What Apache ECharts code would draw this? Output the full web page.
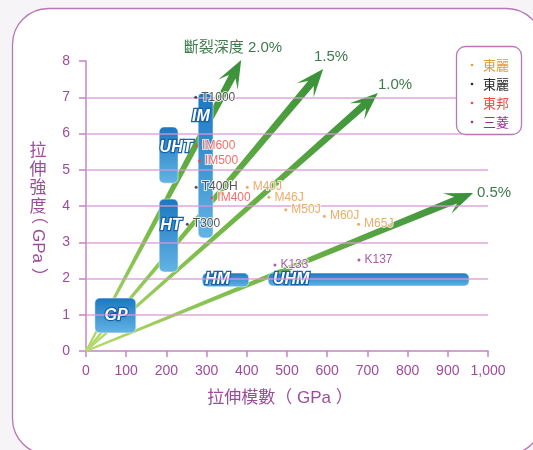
<!DOCTYPE html>
<html><head><meta charset="utf-8">
<script src="https://cdn.jsdelivr.net/npm/echarts@6/dist/echarts.min.js"></script>
<style>html,body{margin:0;padding:0;background:#f7f4f7;}#c{width:533px;height:450px;}</style>
</head><body><div id="c"></div>
<script>
// ---------- data ----------
const xTicks = [0,100,200,300,400,500,600,700,800,900,1000];
const yTicks = [0,1,2,3,4,5,6,7,8];
const strainNames = ['斷裂深度 2.0%','1.5%','1.0%','0.5%'];
const strainTipModulus = [386,590,726,963];
const strainTipStrength = [8.03,7.78,7.12,4.36];
const boxNames = ['GP','HT','UHT','IM','HM','UHM'];
const boxModulusMin = [22,182,182,279,289,453];
const boxModulusMax = [124,229,229,316,405,953];
const boxStrengthMin = [0.50,2.18,4.63,3.12,1.77,1.79];
const boxStrengthMax = [1.46,4.19,6.18,7.12,2.15,2.15];
const legendNames = ['東麗','東麗','東邦','三菱'];
const torayMNames = ['M40J','M46J','M50J','M60J','M65J'];
const torayMModulus = [401,455,497,593,678];
const torayMStrength = [4.52,4.24,3.90,3.72,3.50];
const torayTNames = ['T1000','T400H','T300'];
const torayTModulus = [273,274,252];
const torayTStrength = [7.00,4.52,3.50];
const tohoNames = ['IM600','IM500','IM400'];
const tohoModulus = [275,282,313];
const tohoStrength = [5.66,5.24,4.23];
const mitsuNames = ['K133','K137'];
const mitsuModulus = [470,679];
const mitsuStrength = [2.37,2.51];

// ---------- styles ----------
const PURPLE = '#9e4a9c';
const AXIS = '#c584c3';
const GRID = '#d896d6';
const GREEN_TXT = '#3d7a4c';
const LATIN = '"Liberation Sans", Arial, "Noto Sans CJK TC", sans-serif';
const CJK = '"Noto Sans CJK TC", "Liberation Sans", sans-serif';
const makerColors = ['#e3993f','#2b2b2b','#ef4b42','#93338f'];
// label anchor inside each box (data units) & alignment
const boxLabelAnchor = {GP:[75,0.97,'center'],HT:[211,3.45,'center'],UHT:[224,5.6,'center'],IM:[286,6.48,'center'],HM:[296,1.98,'left'],UHM:[465,1.97,'left']};

const chart = echarts.init(document.getElementById('c'));

function pointSeries(names, xs, ys, color, z){
  return {
    type:'scatter', z:z, symbol:'circle', symbolSize:3,
    itemStyle:{color:color},
    data: names.map((n,i)=>({name:n, value:[xs[i], ys[i]]})),
    label:{show:true, position:'right', distance:4, formatter:'{b}', color:color,
      fontSize:12, fontFamily:LATIN, textBorderColor:'#fff', textBorderWidth:2},
    silent:true
  };
}

const option = {
  animation:false,
  backgroundColor:'#f7f4f7',
  grid:{left:86, right:45, top:61, bottom:99},
  xAxis:{type:'value', min:0, max:1000, interval:100,
    axisLine:{show:true, onZero:true, lineStyle:{color:AXIS, width:1.5}},
    axisTick:{show:true, length:6, lineStyle:{color:AXIS, width:1.5}},
    splitLine:{show:false},
    axisLabel:{color:PURPLE, fontSize:14, fontFamily:LATIN, margin:13,
      formatter:v=>String(v).replace(/\B(?=(\d{3})+(?!\d))/g, ',')}
  },
  yAxis:{type:'value', min:0, max:8, interval:1,
    axisLine:{show:true, lineStyle:{color:AXIS, width:1.5}},
    axisTick:{show:true, length:7, lineStyle:{color:AXIS, width:1.5}},
    splitLine:{show:false},
    axisLabel:{color:PURPLE, fontSize:14, fontFamily:LATIN, margin:16}
  },
  series:[
    { // strain arrows
      type:'custom', z:2, silent:true,
      data: strainNames.map((n,i)=>({name:n, value:[strainTipModulus[i], strainTipStrength[i]]})),
      renderItem:function(params, api){
        const p0 = api.coord([0,0]);
        const p1 = api.coord([api.value(0), api.value(1)]);
        const dx=p1[0]-p0[0], dy=p1[1]-p0[1], L=Math.hypot(dx,dy);
        const ux=dx/L, uy=dy/L, nx=-uy, ny=ux;
        const headLen=28, headW=22, notchDepth=9, w0=2, w1=7.5;
        const sx=p1[0]-ux*(headLen-notchDepth), sy=p1[1]-uy*(headLen-notchDepth);
        const wx=p1[0]-ux*headLen, wy=p1[1]-uy*headLen;
        const pts=[
          [p0[0]+nx*w0/2, p0[1]+ny*w0/2],
          [sx+nx*w1/2, sy+ny*w1/2],
          [wx+nx*headW/2, wy+ny*headW/2],
          [p1[0], p1[1]],
          [wx-nx*headW/2, wy-ny*headW/2],
          [sx-nx*w1/2, sy-ny*w1/2],
          [p0[0]-nx*w0/2, p0[1]-ny*w0/2]
        ];
        return {type:'polygon', shape:{points:pts},
          style:{fill:new echarts.graphic.LinearGradient(p0[0],p0[1],p1[0],p1[1],
            [{offset:0,color:'#b5db6c'},{offset:0.4,color:'#7cbd4a'},{offset:1,color:'#389039'}], true)}};
      }
    },
    { // boxes
      type:'custom', z:3, silent:true,
      data: boxNames.map((n,i)=>({name:n, value:[boxModulusMin[i], boxModulusMax[i], boxStrengthMin[i], boxStrengthMax[i]]})),
      renderItem:function(params, api){
        const a = api.coord([api.value(0), api.value(3)]);
        const b = api.coord([api.value(1), api.value(2)]);
        const name = boxNames[params.dataIndex];
        const an = boxLabelAnchor[name];
        const p = api.coord([an[0], an[1]]);
        return {type:'group', children:[
          {type:'rect', shape:{x:a[0], y:a[1], width:b[0]-a[0], height:b[1]-a[1], r:5},
           style:{fill:new echarts.graphic.LinearGradient(0,0,0,1,[{offset:0,color:'#1a77c0'},{offset:1,color:'#64b4e4'}]),
                  stroke:'rgba(255,255,255,0.5)', lineWidth:1}},
          {type:'text', x:p[0], y:p[1], z2:10,
           style:{text:name, fill:'#ffffff', stroke:'#1562aa', lineWidth:2.5, strokeFirst:true,
                  font:'italic bold 16px "Liberation Sans", Arial, sans-serif', align:an[2], verticalAlign:'middle'}}
        ]};
      }
    },
    { // grid lines
      type:'scatter', z:4, data:[], silent:true,
      markLine:{silent:true, symbol:'none', animation:false, label:{show:false},
        lineStyle:{color:GRID, width:1.5, type:'solid', opacity:0.85},
        data: yTicks.filter(v=>v>0 && v<8).map(v=>[{coord:[0,v]},{coord:[1000,v]}])}
    },
    pointSeries(torayMNames, torayMModulus, torayMStrength, makerColors[0], 5),
    pointSeries(torayTNames, torayTModulus, torayTStrength, makerColors[1], 5),
    pointSeries(tohoNames, tohoModulus, tohoStrength, makerColors[2], 5),
    pointSeries(mitsuNames, mitsuModulus, mitsuStrength, makerColors[3], 5)
  ],
  graphic:[
    {type:'rect', z:-100, silent:true, shape:{x:12.5, y:8.5, width:530, height:446, r:36},
     style:{fill:'#ffffff', stroke:'#b677b5', lineWidth:1.3}},
    // legend box
    {type:'rect', z:100, silent:true, shape:{x:456.5, y:46.5, width:65, height:88, r:9},
     style:{fill:'#ffffff', stroke:'#b677b5', lineWidth:1.3}},
    ...legendNames.map((n,i)=>({type:'group', z:101, silent:true, children:[
      {type:'circle', z:101, shape:{cx:472, cy:65+i*19, r:1.3}, style:{fill:makerColors[i]}},
      {type:'text', z:101, x:483, y:65+i*19, style:{text:n, fill:makerColors[i], font:'13px '+CJK, verticalAlign:'middle'}}
    ]})),
    // axis names
    ...['拉','伸','強','度'].map((c,i)=>({type:'text', z:50, silent:true, x:38, y:150+i*18.5,
      style:{text:c, fill:PURPLE, font:'17px '+CJK, align:'center', verticalAlign:'middle'}})),
    {type:'text', z:50, silent:true, x:38, y:246, rotation:-Math.PI/2,
      style:{text:'（ GPa ）', fill:PURPLE, font:'17px '+LATIN, align:'center', verticalAlign:'middle'}},
    {type:'text', z:50, silent:true, x:280, y:398,
      style:{text:'拉伸模數（ GPa ）', fill:PURPLE, font:'17px '+LATIN, align:'center', verticalAlign:'middle'}},
    // strain labels
    ...strainNames.map((n,i)=>({type:'text', z:50, silent:true,
      x:[233,331,395,494][i], y:[48,57,85,193][i],
      style:{text:n, fill:GREEN_TXT, font:'15px '+LATIN, align:'center', verticalAlign:'middle'}}))
  ]
};
chart.setOption(option);
</script>
</body></html>
